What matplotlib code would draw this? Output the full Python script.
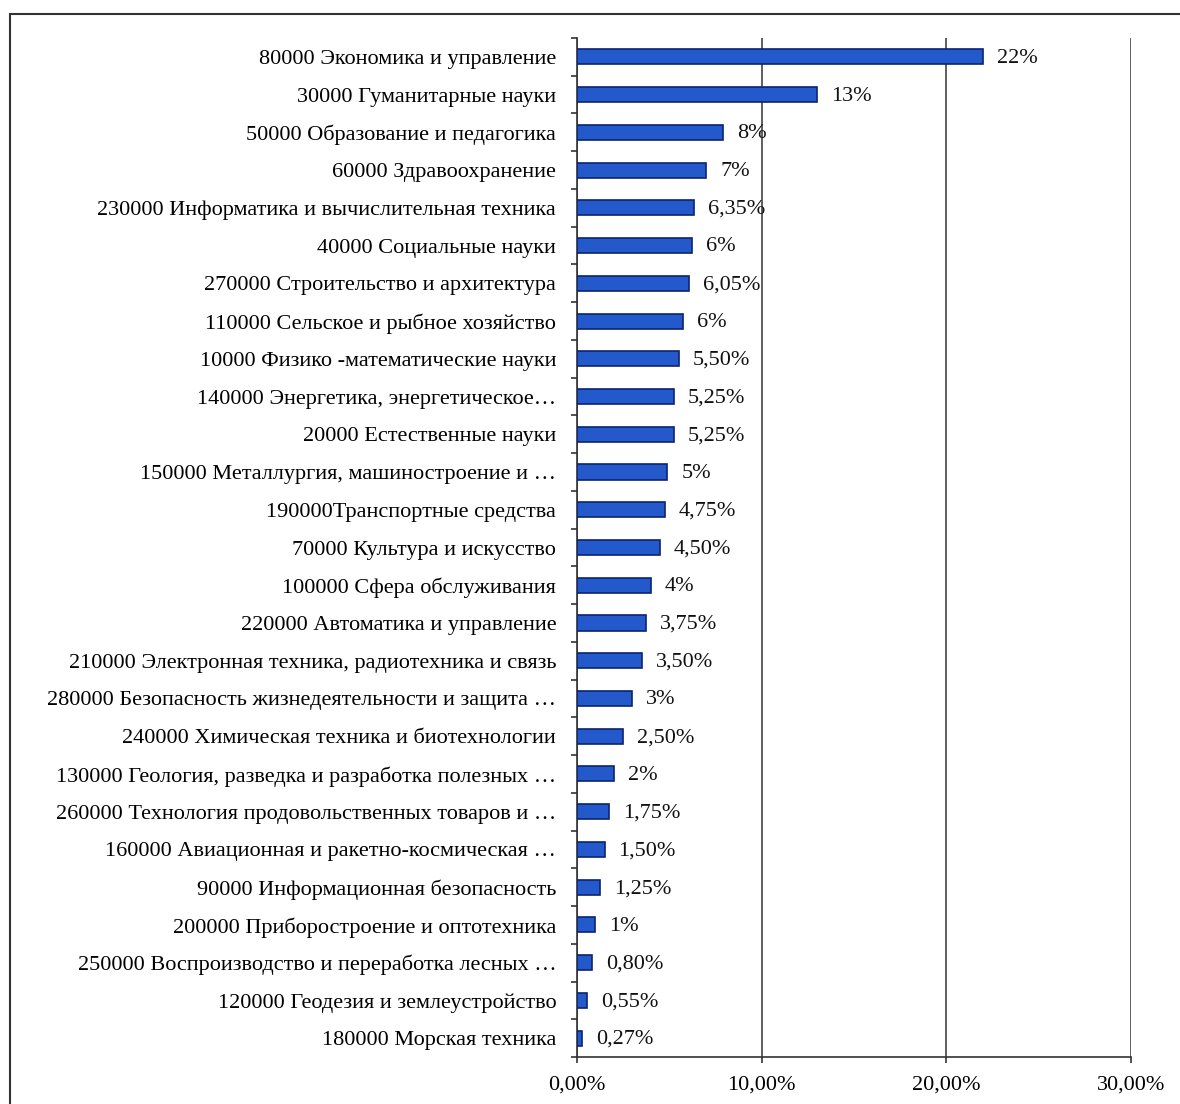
import numpy as np
import matplotlib.pyplot as plt
from matplotlib.patches import Rectangle

categories = [
    '80000 Экономика и управление',
    '30000 Гуманитарные науки',
    '50000 Образование и педагогика',
    '60000 Здравоохранение',
    '230000 Информатика и вычислительная техника',
    '40000 Социальные науки',
    '270000 Строительство и архитектура',
    '110000 Сельское и рыбное хозяйство',
    '10000 Физико -математические науки',
    '140000 Энергетика, энергетическое…',
    '20000 Естественные науки',
    '150000 Металлургия, машиностроение и …',
    '190000Транспортные средства',
    '70000 Культура и искусство',
    '100000 Сфера обслуживания',
    '220000 Автоматика и управление',
    '210000 Электронная техника, радиотехника и связь',
    '280000 Безопасность жизнедеятельности и защита …',
    '240000 Химическая техника и биотехнологии',
    '130000 Геология, разведка и разработка полезных …',
    '260000 Технология продовольственных товаров и …',
    '160000 Авиационная и ракетно-космическая …',
    '90000 Информационная безопасность',
    '200000 Приборостроение и оптотехника',
    '250000 Воспроизводство и переработка лесных …',
    '120000 Геодезия и землеустройство',
    '180000 Морская техника',
]
values = [22.0, 13.0, 7.9, 7.0, 6.35, 6.25, 6.05, 5.75, 5.5, 5.25, 5.25, 4.9, 4.75,
          4.5, 4.0, 3.75, 3.5, 3.0, 2.5, 2.0, 1.75, 1.5, 1.25, 1.0, 0.8, 0.55, 0.27]
value_labels = ['22%', '13%', '8%', '7%', '6,35%', '6%', '6,05%', '6%', '5,50%', '5,25%',
                '5,25%', '5%', '4,75%', '4,50%', '4%', '3,75%', '3,50%', '3%', '2,50%',
                '2%', '1,75%', '1,50%', '1,25%', '1%', '0,80%', '0,55%', '0,27%']
x_ticks = [0, 10, 20, 30]
x_tick_labels = ['0,00%', '10,00%', '20,00%', '30,00%']

plt.rcParams['font.family'] = ['Liberation Serif', 'DejaVu Serif']
fs = 16

fig = plt.figure(figsize=(11.8, 11.04), dpi=100)
ax = fig.add_axes([577 / 1180, 47 / 1104, (1131 - 577) / 1180, (1066 - 47) / 1104])

n = len(categories)
y = np.arange(n)[::-1]
ax.barh(y, values, height=0.4, color='#2459cc', edgecolor='#0b2470', linewidth=1.2, zorder=3)

for yi, v, lab in zip(y, values, value_labels):
    ax.annotate(lab, (v, yi), xytext=(10, -1), textcoords='offset points',
                va='center', ha='left', fontsize=fs, color='#111111', zorder=4)

ax.set_xlim(0, 30)
ax.set_ylim(-0.5, n - 0.5)
ax.set_xticks(x_ticks)
ax.set_xticklabels(x_tick_labels, fontsize=fs)
ax.set_yticks(y)
ax.set_yticklabels(categories, fontsize=fs)
ax.set_yticks(np.arange(n + 1) - 0.5, minor=True)
ax.tick_params(axis='y', which='major', length=0, pad=15)
ax.tick_params(axis='y', which='minor', length=4, width=1.2, color='#333333')
ax.tick_params(axis='x', which='major', length=4, width=1.2, color='#333333', pad=9)

ax.grid(True, axis='x', color='#333333', linewidth=1.1, zorder=0)
for s in ['top', 'right']:
    ax.spines[s].set_visible(False)
for s in ['left', 'bottom']:
    ax.spines[s].set_color('#333333')
    ax.spines[s].set_linewidth(1.2)

# outer frame around the chart area
fig.patches.append(Rectangle((10 / 1180, -0.05), 1.2, 1 - 14 / 1104 + 0.05,
                             transform=fig.transFigure, fill=False,
                             edgecolor='#333333', linewidth=1.5))

fig.savefig('out.png', dpi=100)
